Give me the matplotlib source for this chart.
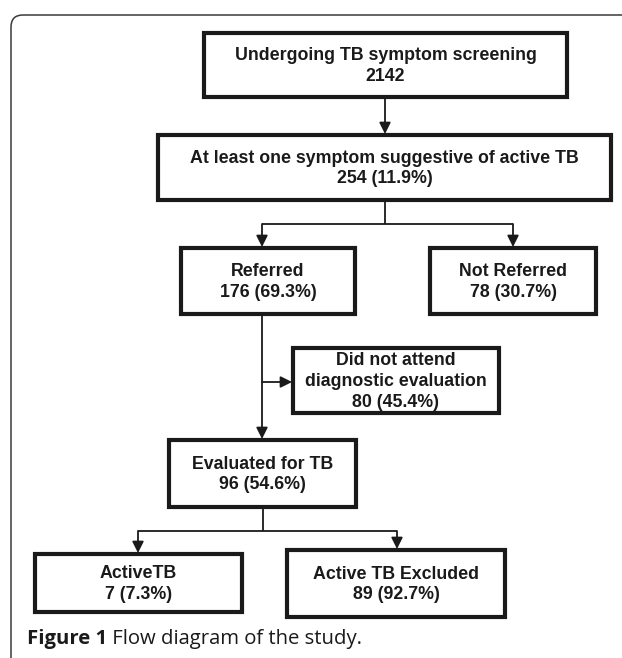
import matplotlib.pyplot as plt
from matplotlib.patches import Rectangle, FancyBboxPatch

# Datos del diagrama
titles = ['Undergoing TB symptom screening', 'At least one symptom suggestive of active TB',
          'Referred', 'Not Referred', 'Did not attend\ndiagnostic evaluation',
          'Evaluated for TB', 'ActiveTB', 'Active TB Excluded']
counts = [2142, 254, 176, 78, 80, 96, 7, 89]
percents = [None, 11.9, 69.3, 30.7, 45.4, 54.6, 7.3, 92.7]

# Posiciones de las cajas en pixeles (x0, y0, x1, y1)
boxes = [(204, 33, 567, 97), (158, 135, 611, 200), (181, 248, 355, 314), (430, 248, 596, 314),
         (293, 348, 499, 413), (169, 440, 356, 507), (35, 554, 242, 612), (287, 550, 505, 617)]

W, H = 622, 658
fig = plt.figure(figsize=(W / 100, H / 100), dpi=100)
ax = fig.add_axes([0, 0, 1, 1])
ax.set_xlim(0, W)
ax.set_ylim(H, 0)
ax.axis('off')

# Marco exterior con esquina redondeada
frame = FancyBboxPatch((11, 15), 700, 700, boxstyle='round,pad=0,rounding_size=12',
                       fill=False, ec='#3a3a3a', lw=1.1, clip_on=False)
ax.add_patch(frame)

for (x0, y0, x1, y1), t, c, p in zip(boxes, titles, counts, percents):
    ax.add_patch(Rectangle((x0, y0), x1 - x0, y1 - y0, fill=False, ec='#1a1a1a', lw=3.0))
    txt = t + '\n' + (str(c) if p is None else f'{c} ({p}%)')
    ax.text((x0 + x1) / 2, (y0 + y1) / 2 + 1, txt, ha='center', va='center',
            fontsize=12.8, fontweight='bold', family='Liberation Sans',
            color='#1a1a1a', linespacing=1.3)

lk = dict(color='#1a1a1a', lw=1.3, solid_capstyle='butt')

def arrow(x0, y0, x1, y1):
    ax.annotate('', xy=(x1, y1), xytext=(x0, y0),
                arrowprops=dict(arrowstyle='-|>', color='#1a1a1a', lw=1.3,
                                mutation_scale=17, shrinkA=0, shrinkB=0))

# Flechas
arrow(385, 97, 385, 134)
ax.plot([385, 385], [200, 224], **lk)
ax.plot([262, 513], [224, 224], **lk)
arrow(262, 224, 262, 247)
arrow(513, 224, 513, 247)
arrow(262, 314, 262, 439)
arrow(262, 382, 292, 382)
ax.plot([263, 263], [507, 531], **lk)
ax.plot([138, 397], [531, 531], **lk)
arrow(138, 531, 138, 553)
arrow(397, 531, 397, 549)

# Pie de figura
cap = ax.text(27, 639, 'Figure 1', fontsize=14.6, fontweight='bold', family='Open Sans',
              va='center', ha='left', color='#1a1a1a')
ax.annotate(' Flow diagram of the study.', xy=(1, 0.5), xycoords=cap, fontsize=14.6,
            family='Open Sans', va='center', ha='left', color='#1a1a1a')

fig.savefig('out.png', dpi=100)
